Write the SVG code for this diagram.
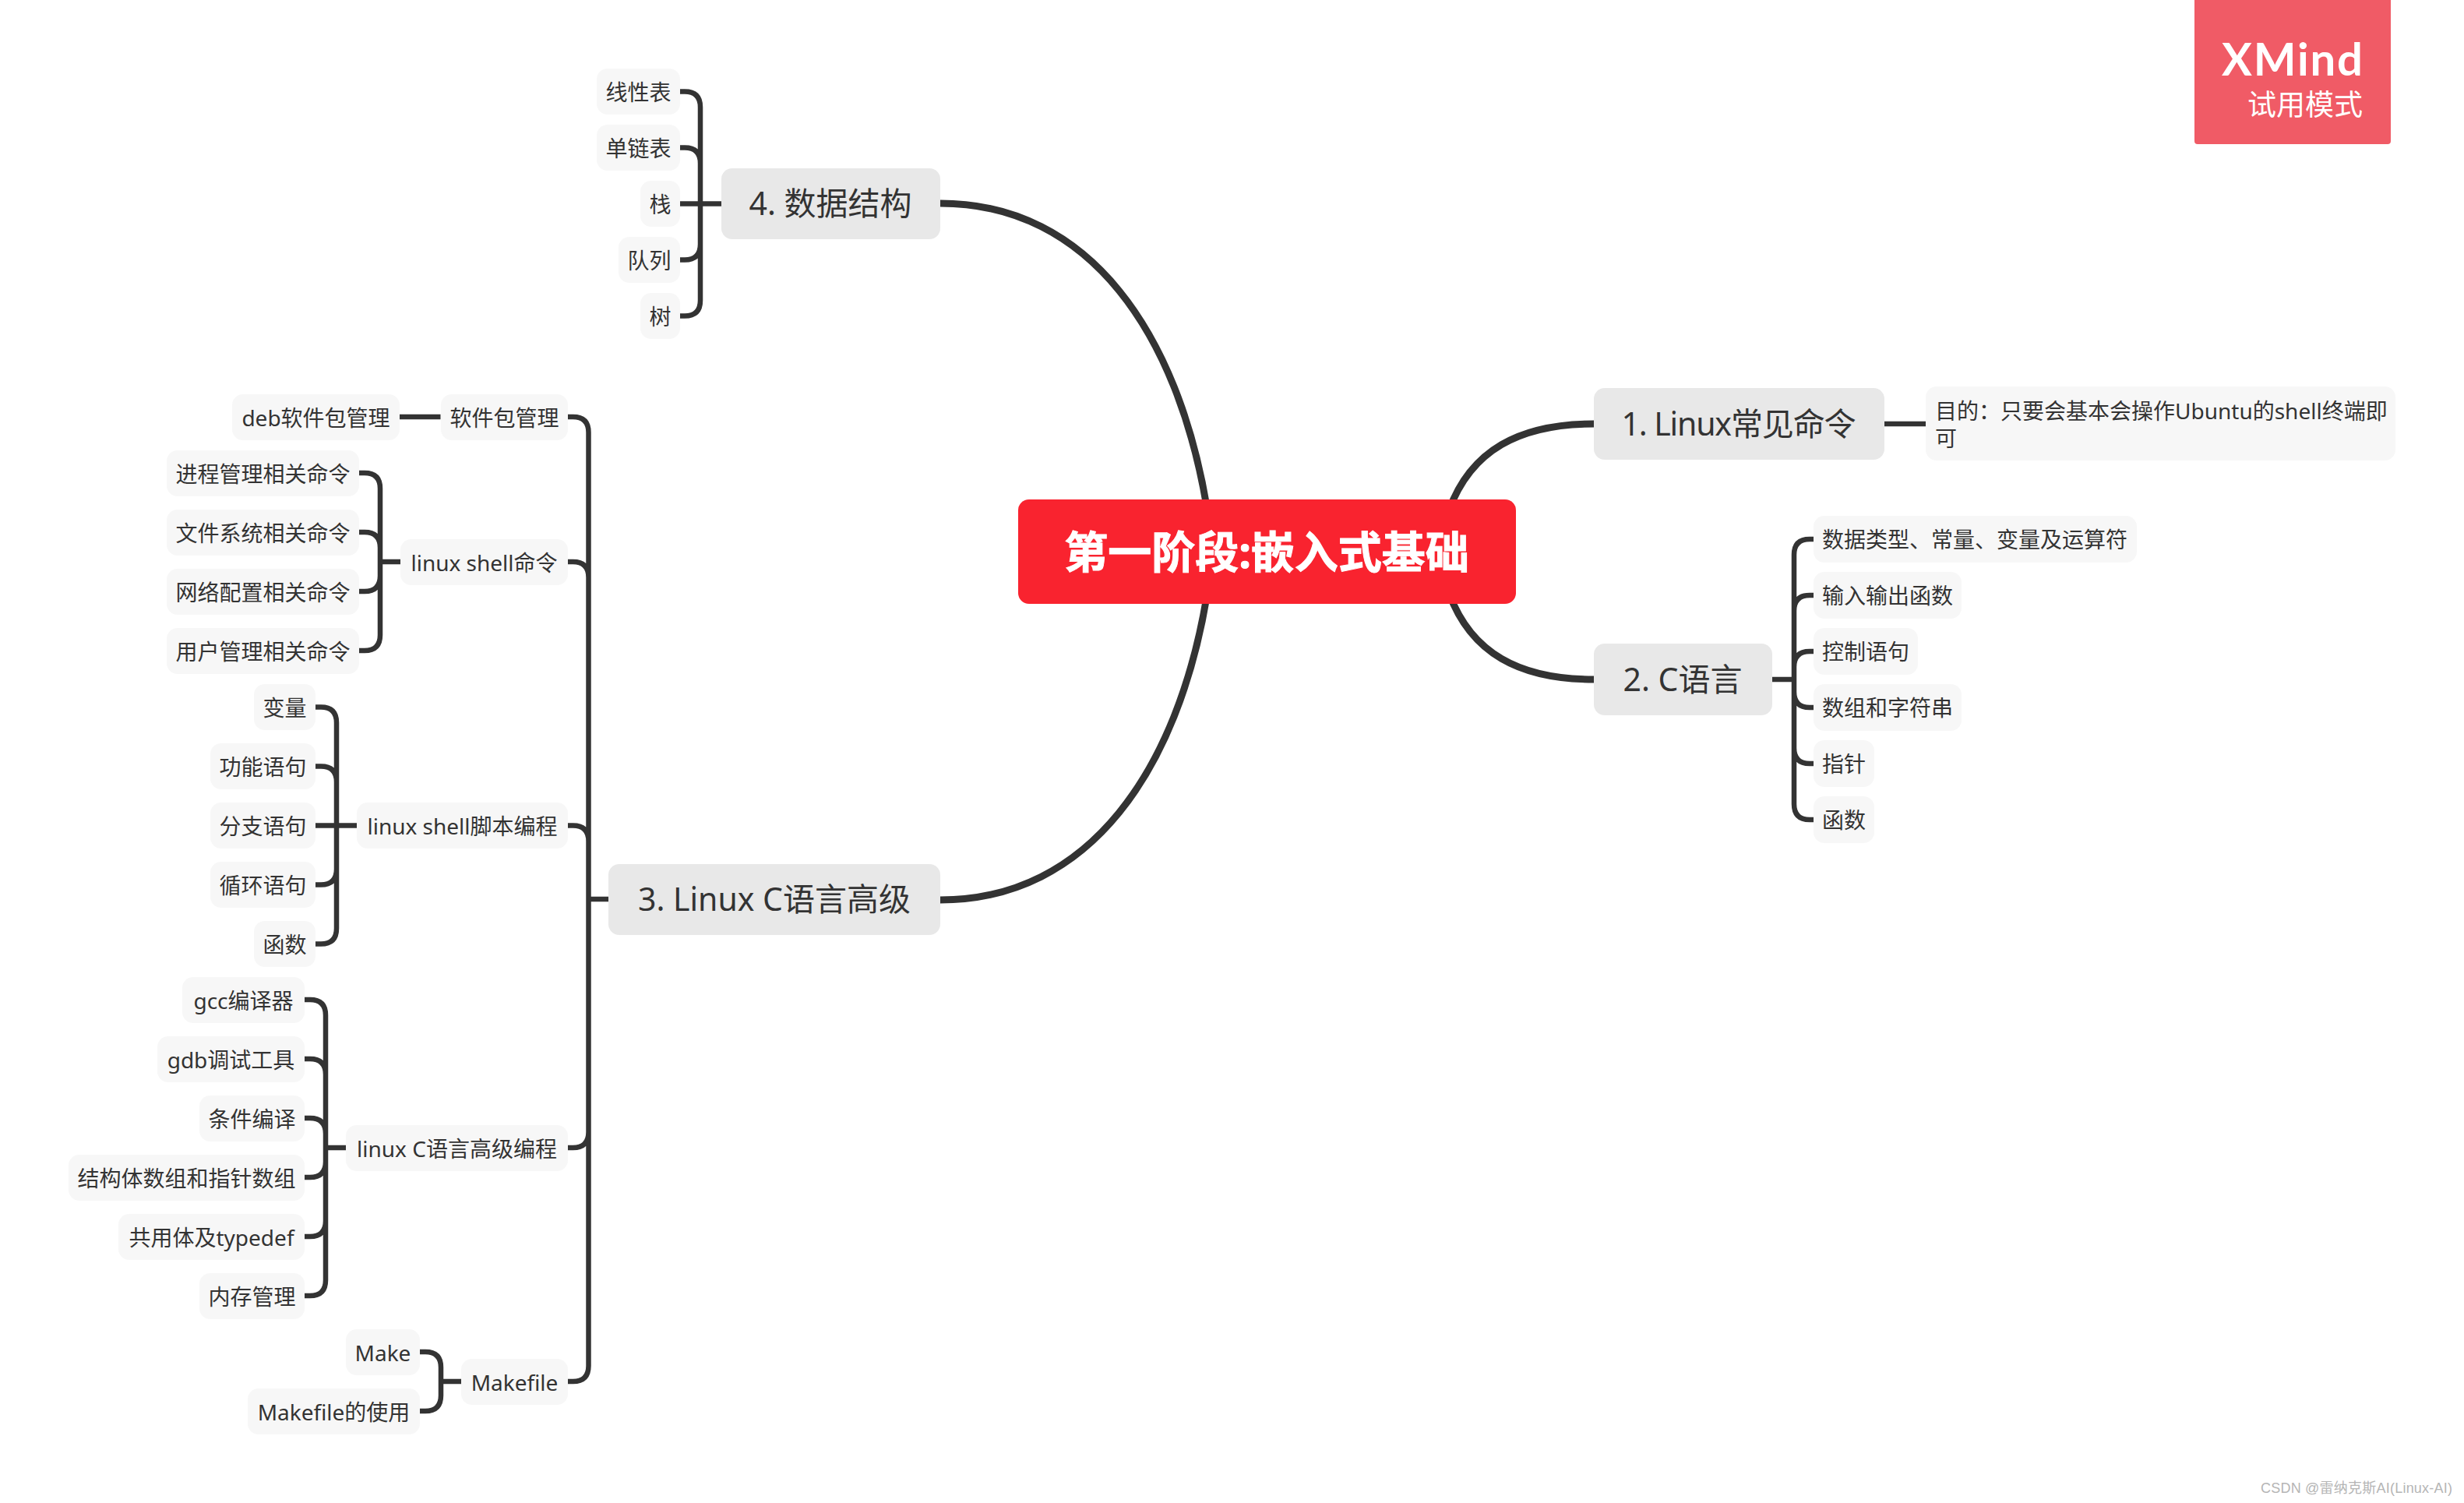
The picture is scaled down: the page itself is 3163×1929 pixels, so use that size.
<svg xmlns="http://www.w3.org/2000/svg" width="3163" height="1929" viewBox="0 0 3163 1929">
<style>
text{font-family:"Noto Sans","Noto Sans CJK SC",sans-serif;fill:#333;text-anchor:middle}
.c{fill:none;stroke:#333;stroke-width:6.500}
.m{fill:none;stroke:#333;stroke-width:9}
.l1 rect{fill:#e8e8e8}
.l1 text{font-size:41px}
.l2 rect{fill:#f7f7f7}
.l2 text{font-size:28px}
</style>
<rect width="3163" height="1929" fill="#fff"/>
<g id="connectors">
<path class="m" d="M1860,655C1888,578 1950,544 2046,544"/>
<path class="m" d="M1860,761C1888,838 1950,872 2046,872"/>
<path class="m" d="M1207,261C1400,261 1512,430 1549,650"/>
<path class="m" d="M1207,1155C1400,1155 1512,986 1549,766"/>
<path class="c" d="M2419,544H2472"/>
<path class="c" d="M2275,872H2303M2328,692H2323Q2303,692 2303,712V1032Q2303,1052 2323,1052H2328M2328,764H2323Q2303,764 2303,784M2328,836H2323Q2303,836 2303,856M2328,908H2323Q2303,908 2303,888M2328,980H2323Q2303,980 2303,960"/>
<path class="c" d="M926,261.500H873M873,117.500H879Q899,117.500 899,137.500V385.500Q899,405.500 879,405.500H873M873,189.500H879Q899,189.500 899,209.500M873,333.500H879Q899,333.500 899,313.500"/>
<path class="c" d="M781,1154H755.500M729,535H735.500Q755.500,535 755.500,555V1753Q755.500,1773 735.500,1773H729M729,721H735.500Q755.500,721 755.500,741M729,1059.500H735.500Q755.500,1059.500 755.500,1079.500M729,1473H735.500Q755.500,1473 755.500,1453"/>
<path class="c" d="M513,535H565.500"/>
<path class="c" d="M514,721H488M461,607H468Q488,607 488,627V815Q488,835 468,835H461M461,683H468Q488,683 488,703M461,759H468Q488,759 488,739"/>
<path class="c" d="M458,1059.500H405M405,907.500H412Q432,907.500 432,927.500V1191.500Q432,1211.500 412,1211.500H405M405,983.500H412Q432,983.500 432,1003.500M405,1135.500H412Q432,1135.500 432,1115.500"/>
<path class="c" d="M444,1473H418M391,1283H398Q418,1283 418,1303V1643Q418,1663 398,1663H391M391,1359H398Q418,1359 418,1379M391,1435H398Q418,1435 418,1455M391,1511H398Q418,1511 418,1491M391,1587H398Q418,1587 418,1567"/>
<path class="c" d="M592,1773H566M539,1735H546Q566,1735 566,1755V1791Q566,1811 546,1811H539"/>
</g>
<g id="root"><rect x="1307" y="641" width="639" height="134" rx="14" fill="#f9232f"/><text x="1626" y="729" font-size="56" font-weight="700" style="fill:#fff;stroke:#fff;stroke-width:1">第一阶段:嵌入式基础</text></g>
<g id="t1" class="l1"><rect x="2046" y="498" width="373" height="92" rx="14"/><text x="2232" y="559" textLength="301">1. Linux常见命令</text></g>
<g id="t2" class="l1"><rect x="2046" y="826" width="229" height="92" rx="14"/><text x="2160" y="887">2. C语言</text></g>
<g id="t3" class="l1"><rect x="781" y="1109" width="426" height="91" rx="14"/><text x="994" y="1169">3. Linux C语言高级</text></g>
<g id="t4" class="l1"><rect x="926" y="216" width="281" height="91" rx="14"/><text x="1066" y="276">4. 数据结构</text></g>
<g id="note" class="l2"><rect x="2472" y="496" width="603" height="95" rx="14"/><text x="2484" y="538" style="text-anchor:start">目的&#xFF1A;只要会基本会操作Ubuntu的shell终端即</text><text x="2484" y="573" style="text-anchor:start">可</text></g>
<g id="c1" class="l2"><rect x="2328" y="662" width="415" height="60" rx="14"/><text x="2535" y="702.500">数据类型、常量、变量及运算符</text></g>
<g id="c2" class="l2"><rect x="2328" y="734" width="190" height="60" rx="14"/><text x="2423" y="774.500">输入输出函数</text></g>
<g id="c3" class="l2"><rect x="2328" y="806" width="134" height="60" rx="14"/><text x="2395" y="846.500">控制语句</text></g>
<g id="c4" class="l2"><rect x="2328" y="878" width="190" height="60" rx="14"/><text x="2423" y="918.500">数组和字符串</text></g>
<g id="c5" class="l2"><rect x="2328" y="950" width="78" height="60" rx="14"/><text x="2367" y="990.500">指针</text></g>
<g id="c6" class="l2"><rect x="2328" y="1022" width="78" height="60" rx="14"/><text x="2367" y="1062.500">函数</text></g>
<g id="d1" class="l2"><rect x="766" y="88" width="107" height="59" rx="14"/><text x="819.500" y="129">线性表</text></g>
<g id="d2" class="l2"><rect x="766" y="160" width="107" height="59" rx="14"/><text x="819.500" y="201">单链表</text></g>
<g id="d3" class="l2"><rect x="822" y="232" width="51" height="59" rx="14"/><text x="847.500" y="273">栈</text></g>
<g id="d4" class="l2"><rect x="794" y="304" width="79" height="59" rx="14"/><text x="833.500" y="345">队列</text></g>
<g id="d5" class="l2"><rect x="822" y="376" width="51" height="59" rx="14"/><text x="847.500" y="417">树</text></g>
<g id="p1" class="l2"><rect x="566" y="506" width="163" height="59" rx="14"/><text x="647.500" y="546.500">软件包管理</text></g>
<g id="p1a" class="l2"><rect x="298" y="506" width="215" height="59" rx="14"/><text x="405.500" y="546.500">deb软件包管理</text></g>
<g id="p2" class="l2"><rect x="514" y="692" width="215" height="59" rx="14"/><text x="621.500" y="732.500">linux shell命令</text></g>
<g id="p2a" class="l2"><rect x="214" y="578" width="247" height="59" rx="14"/><text x="337.500" y="618.500">进程管理相关命令</text></g>
<g id="p2b" class="l2"><rect x="214" y="654" width="247" height="59" rx="14"/><text x="337.500" y="694.500">文件系统相关命令</text></g>
<g id="p2c" class="l2"><rect x="214" y="730" width="247" height="59" rx="14"/><text x="337.500" y="770.500">网络配置相关命令</text></g>
<g id="p2d" class="l2"><rect x="214" y="806" width="247" height="59" rx="14"/><text x="337.500" y="846.500">用户管理相关命令</text></g>
<g id="p3" class="l2"><rect x="458" y="1030" width="271" height="59" rx="14"/><text x="593.500" y="1070.500">linux shell脚本编程</text></g>
<g id="p3a" class="l2"><rect x="326" y="878" width="79" height="59" rx="14"/><text x="365.500" y="918.500">变量</text></g>
<g id="p3b" class="l2"><rect x="270" y="954" width="135" height="59" rx="14"/><text x="337.500" y="994.500">功能语句</text></g>
<g id="p3c" class="l2"><rect x="270" y="1030" width="135" height="59" rx="14"/><text x="337.500" y="1070.500">分支语句</text></g>
<g id="p3d" class="l2"><rect x="270" y="1106" width="135" height="59" rx="14"/><text x="337.500" y="1146.500">循环语句</text></g>
<g id="p3e" class="l2"><rect x="326" y="1182" width="79" height="59" rx="14"/><text x="365.500" y="1222.500">函数</text></g>
<g id="p4" class="l2"><rect x="444" y="1444" width="285" height="59" rx="14"/><text x="586.500" y="1484.500">linux C语言高级编程</text></g>
<g id="p4a" class="l2"><rect x="234" y="1254" width="157" height="59" rx="14"/><text x="312.500" y="1294.500">gcc编译器</text></g>
<g id="p4b" class="l2"><rect x="202" y="1330" width="189" height="59" rx="14"/><text x="296.500" y="1370.500">gdb调试工具</text></g>
<g id="p4c" class="l2"><rect x="256" y="1406" width="135" height="59" rx="14"/><text x="323.500" y="1446.500">条件编译</text></g>
<g id="p4d" class="l2"><rect x="88" y="1482" width="303" height="59" rx="14"/><text x="239.500" y="1522.500">结构体数组和指针数组</text></g>
<g id="p4e" class="l2"><rect x="152" y="1558" width="239" height="59" rx="14"/><text x="271.500" y="1598.500">共用体及typedef</text></g>
<g id="p4f" class="l2"><rect x="256" y="1634" width="135" height="59" rx="14"/><text x="323.500" y="1674.500">内存管理</text></g>
<g id="p5" class="l2"><rect x="592" y="1744" width="137" height="59" rx="14"/><text x="660.500" y="1784.500">Makefile</text></g>
<g id="p5a" class="l2"><rect x="444" y="1706" width="95" height="59" rx="14"/><text x="491.500" y="1746.500">Make</text></g>
<g id="p5b" class="l2"><rect x="318" y="1782" width="221" height="59" rx="14"/><text x="428.500" y="1822.500">Makefile的使用</text></g>
<g id="watermark"><rect x="2817" y="-6" width="252" height="191" rx="4" fill="#f05b66"/><text x="2852" y="97" font-size="58" font-weight="700" textLength="181" style="font-family:Lato,sans-serif;fill:#fff;text-anchor:start">XMind</text><text x="3033" y="148" font-size="37" style="fill:#fff;text-anchor:end">试用模式</text></g>
<text x="2902" y="1916" font-size="18" textLength="246" style="fill:#b5b5b5;text-anchor:start;font-family:'Liberation Sans','Noto Sans CJK SC',sans-serif">CSDN @雷纳克斯AI(Linux-AI)</text>
</svg>
